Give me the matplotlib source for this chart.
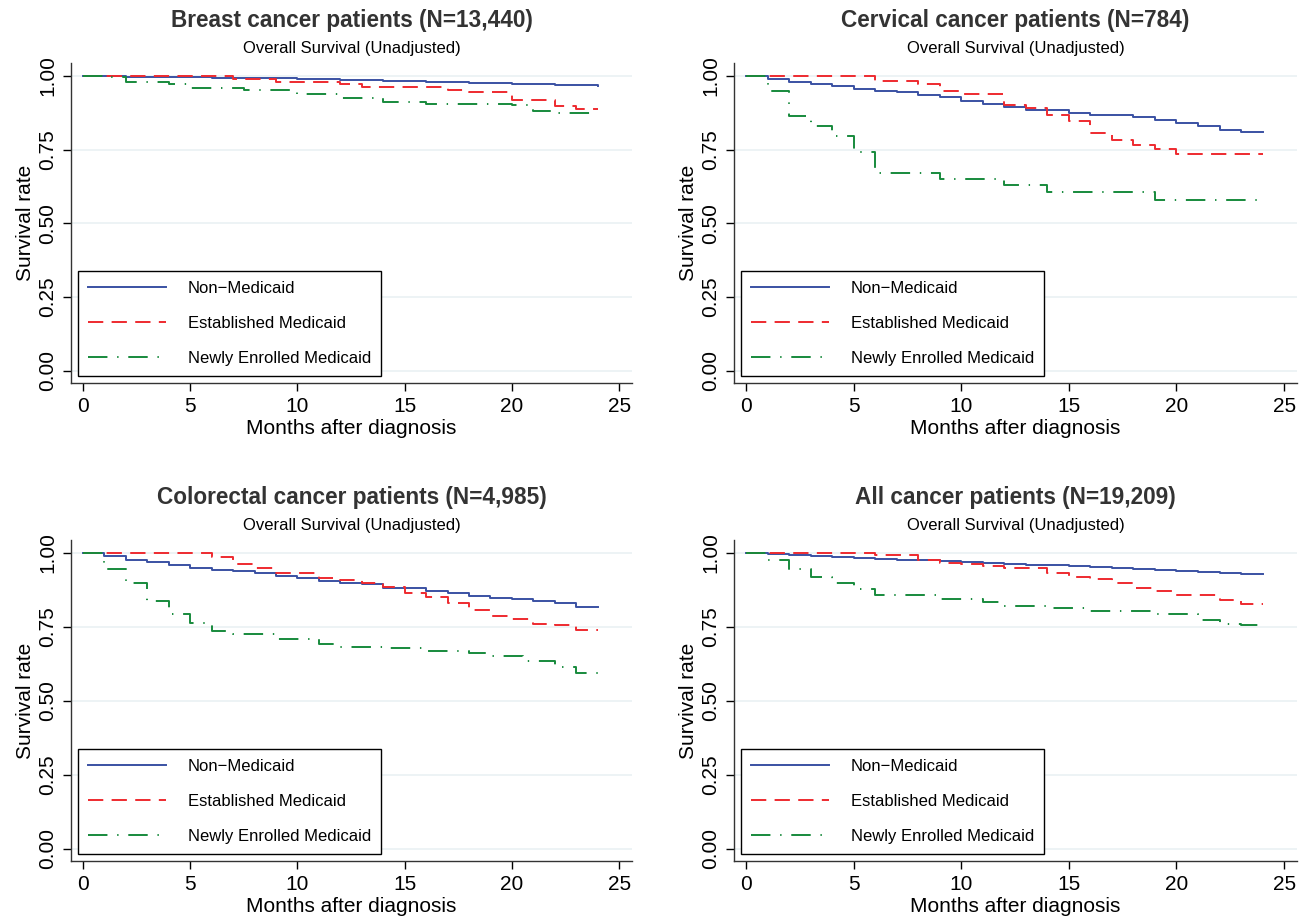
import matplotlib
matplotlib.use("Agg")
import matplotlib.pyplot as plt

plt.rcParams['font.family'] = ['Liberation Sans', 'DejaVu Sans']
plt.rcParams['lines.scale_dashes'] = False

# panel titles
titles = [
    'Breast cancer patients (N=13,440)',
    'Cervical cancer patients (N=784)',
    'Colorectal cancer patients (N=4,985)',
    'All cancer patients (N=19,209)',
]
subtitle = 'Overall Survival (Unadjusted)'
groups = ['Non\u2212Medicaid', 'Established Medicaid', 'Newly Enrolled Medicaid']

# step times (months) and survival values, one pair per group per panel
breast_non_t = [0, 2, 4, 6, 8, 10, 12, 14, 16, 18, 20, 22, 24]
breast_non_s = [1.0, .998, .996, .994, .992, .989, .986, .983, .980, .977, .974, .970, .967]
breast_est_t = [0, 7, 9, 12, 13, 17, 18, 20, 22, 23, 24]
breast_est_s = [1.0, .99, .979, .972, .961, .953, .944, .917, .899, .889, .889]
breast_new_t = [0, 1, 2, 4, 5, 7.5, 10, 12, 14, 16, 20, 21, 22, 24]
breast_new_s = [1.0, .995, .981, .972, .958, .953, .938, .925, .912, .905, .90, .88, .874, .874]

cerv_non_t = [0, 1, 2, 3, 4, 5, 6, 7, 8, 9, 10, 11, 12, 13, 15, 16, 18, 19, 20, 21, 22, 23, 24]
cerv_non_s = [1.0, .99, .981, .974, .967, .956, .95, .947, .936, .93, .916, .904, .896,
              .883, .874, .868, .86, .851, .84, .831, .818, .809, .809]
cerv_est_t = [0, 6, 8, 9, 10, 12, 13, 14, 15, 16, 17, 18, 19, 20, 24]
cerv_est_s = [1.0, .984, .972, .949, .939, .90, .89, .868, .846, .806, .784, .767, .753, .736, .736]
cerv_new_t = [0, 1, 2, 3, 4, 5, 6, 9, 12, 14, 19, 24]
cerv_new_s = [1.0, .95, .865, .829, .795, .741, .671, .651, .63, .607, .578, .578]

colo_non_t = [0, 1, 2, 3, 4, 5, 6, 7, 8, 9, 10, 11, 12, 13, 14, 16, 17, 18, 19, 20, 21, 22, 23, 24]
colo_non_s = [1.0, .989, .977, .968, .96, .951, .943, .938, .932, .923, .915, .906, .90, .894,
              .883, .873, .864, .856, .849, .844, .839, .83, .818, .818]
colo_est_t = [0, 6, 7, 8, 9, 11, 12, 13, 14, 15, 16, 17, 18, 19, 20, 21, 22, 23, 24]
colo_est_s = [1.0, .985, .9625, .949, .934, .915, .909, .898, .886, .866, .852, .83, .809,
              .787, .776, .761, .758, .739, .739]
colo_new_t = [0, 1, 2, 3, 4, 5, 6, 7, 9, 11, 12, 14, 16, 18, 19, 20.5, 22, 23, 24]
colo_new_s = [1.0, .947, .898, .839, .793, .765, .735, .725, .708, .693, .684, .678, .67,
              .662, .653, .634, .614, .593, .593]

all_non_t = [0, 1, 2, 3, 4, 5, 6, 7, 8, 9, 10, 11, 12, 13, 14, 15, 16, 17, 18, 19, 20, 21, 22, 23, 24]
all_non_s = [1.0, .997, .993, .989, .985, .982, .980, .977, .975, .972, .968, .966, .964,
             .961, .958, .955, .952, .949, .946, .943, .940, .936, .933, .928, .928]
all_est_t = [0, 6, 8, 9, 10, 11, 12, 14, 15, 16, 17, 18, 19, 20, 22, 23, 24]
all_est_s = [1.0, .992, .977, .966, .9625, .955, .949, .934, .918, .911, .898, .883, .872,
             .858, .841, .827, .827]
all_new_t = [0, 1, 2, 3, 4, 5, 6, 9, 11, 12, 14, 16, 19, 21, 22, 23, 24]
all_new_s = [1.0, .975, .945, .92, .90, .877, .858, .844, .835, .82, .8125, .805, .795,
             .773, .761, .756, .756]

panels = [
    [(breast_non_t, breast_non_s), (breast_est_t, breast_est_s), (breast_new_t, breast_new_s)],
    [(cerv_non_t, cerv_non_s), (cerv_est_t, cerv_est_s), (cerv_new_t, cerv_new_s)],
    [(colo_non_t, colo_non_s), (colo_est_t, colo_est_s), (colo_new_t, colo_new_s)],
    [(all_non_t, all_non_s), (all_est_t, all_est_s), (all_new_t, all_new_s)],
]

colors = ['#3a51a3', '#ee2a2f', '#178a3c']
dashes = [None, (11, 6), (14, 7, 1, 7)]

W, H = 1306, 916
fig = plt.figure(figsize=(W / 100, H / 100), dpi=100)

# axes boxes in pixels: left, top, right, bottom
boxes = [(71, 63, 632, 383), (734, 63, 1297, 383),
         (71, 540, 632, 861), (734, 540, 1297, 861)]

for box, title, series in zip(boxes, titles, panels):
    l, t, r, b = box
    ax = fig.add_axes([l / W, 1 - b / H, (r - l) / W, (b - t) / H])
    hpx = b - t
    for (tt, ss), c, d, lab in zip(series, colors, dashes, groups):
        line, = ax.step(tt, ss, where='post', color=c, lw=1.4, label=lab)
        if d is not None:
            line.set_dashes(d)

    ax.set_xlim(-0.56, 25.6)
    ax.set_ylim(-0.041, 1.044)
    ax.set_xticks([0, 5, 10, 15, 20, 25])
    ax.set_yticks([0, .25, .5, .75, 1.0])
    ax.set_yticklabels(['0.00', '0.25', '0.50', '0.75', '1.00'], rotation=90, va='center')
    ax.tick_params(length=6, width=1, labelsize=15, pad=4, colors='black')
    ax.grid(axis='y', color='#eaf1f3', lw=1.2)
    ax.set_axisbelow(True)
    for s in ['top', 'right']:
        ax.spines[s].set_visible(False)
    for s in ['left', 'bottom']:
        ax.spines[s].set_linewidth(1.0)
        ax.spines[s].set_color('#333333')
    ax.set_xlabel('Months after diagnosis', fontsize=15, labelpad=2)
    ax.set_ylabel('Survival rate', fontsize=15, labelpad=2)

    ax.text(0.5, 1 + 43 / hpx, title, transform=ax.transAxes, ha='center', va='center',
            fontsize=16.3, fontweight='bold', color='#333333')
    ax.text(0.5, 1 + 15 / hpx, subtitle, transform=ax.transAxes, ha='center', va='center',
            fontsize=12, color='black')

    leg = ax.legend(loc='lower left', bbox_to_anchor=(7 / (r - l), 7 / hpx), borderaxespad=0,
                    fontsize=12, frameon=True, fancybox=False, framealpha=1,
                    edgecolor='black', handlelength=4.7, handletextpad=1.3,
                    labelspacing=1.2, borderpad=0.6)
    leg.get_frame().set_linewidth(1.0)

fig.savefig('out.png', dpi=100)
